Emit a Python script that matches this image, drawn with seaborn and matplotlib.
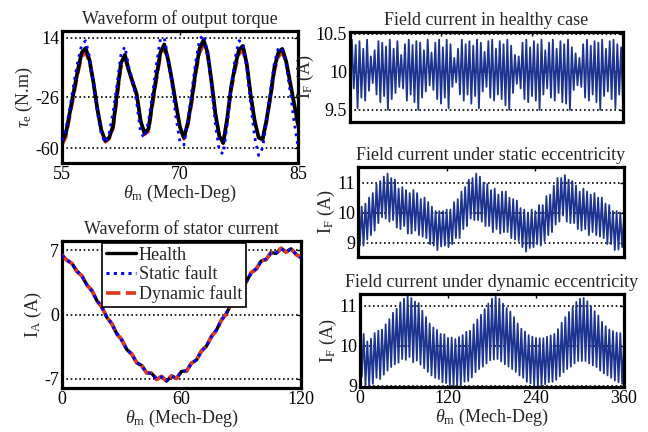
import matplotlib
matplotlib.use("Agg")
import matplotlib.pyplot as plt
import seaborn as sns

# ---------------- torque waveform (55..85 deg, step 0.5) ----------------
torque_theta = [55.0 + 0.5 * k for k in range(61)]
torque_health = [-56, -50, -36, -22, -8, 4, 7, -1, -16, -34, -48, -55, -53, -45, -23, -3,
                 2.5, -8, -16, -24, -42, -50, -47, -29, -12, 4, 9.5, -1, -15, -31, -46, -53,
                 -43, -27, -8, 7, 12.5, 4, -15, -37, -52, -56.5, -40, -19, -5, 6, 8.5, -4,
                 -25, -42, -53, -54, -41, -25, -6, 4, 6.5, -2, -16, -30, -44]
torque_static = [-55, -47, -33, -17, -2, 9, 12, 1, -16, -36, -51, -56.5, -50, -36, -17, 3,
                 8, -6, -15, -30, -50, -53, -42, -24, -4, 13, 14, 0, -18, -40, -56, -58,
                 -42, -22, -2, 13, 16, 4, -18, -44, -62, -64, -44, -20, 0, 12, 10, -6,
                 -31, -53, -65, -60, -42, -22, -3, 7, 7, -4, -22, -42, -59]
torque_dynamic = [-58, -53, -39, -25, -11, 1, 4, -3, -17, -34, -48, -56, -54, -47, -27, -6,
                  0, -9, -17, -25, -42, -51, -49, -32, -15, 1, 7, -2, -16, -32, -47, -54,
                  -45, -30, -11, 4, 9, 2, -16, -37, -52, -57, -42, -22, -8, 3, 5, -5,
                  -25, -42, -53, -55, -43, -27, -9, 1, 4, -3, -17, -31, -46]

# ---------------- stator current (0..120 deg, step 2.5) ----------------
stator_theta = [2.5 * k for k in range(49)]
ia_health = [6.45, 5.90, 5.55, 4.70, 4.20, 3.22, 2.60, 1.52, 0.82, -0.30, -1.00, -2.10,
             -2.75, -3.80, -4.30, -5.25, -5.55, -6.35, -6.40, -7.05, -6.75, -7.25, -6.70,
             -6.95, -6.20, -6.15, -5.30, -4.95, -3.98, -3.45, -2.40, -1.72, -0.62, 0.08,
             1.20, 1.88, 2.97, 3.55, 4.55, 4.95, 5.82, 6.00, 6.75, 6.65, 7.20, 6.80, 7.15,
             6.55, 6.20]
ia_static = [6.40, 5.95, 5.50, 4.75, 4.15, 3.25, 2.55, 1.55, 0.78, -0.26, -1.04, -2.06,
             -2.80, -3.76, -4.34, -5.20, -5.60, -6.30, -6.45, -7.00, -6.80, -7.20, -6.74,
             -6.90, -6.24, -6.10, -5.34, -4.90, -4.02, -3.40, -2.44, -1.68, -0.66, 0.12,
             1.16, 1.92, 2.93, 3.60, 4.50, 5.00, 5.78, 6.05, 6.70, 6.70, 7.15, 6.85, 7.10,
             6.60, 6.15]
ia_dynamic = [6.50, 5.88, 5.58, 4.68, 4.22, 3.20, 2.62, 1.50, 0.84, -0.32, -0.98, -2.12,
              -2.73, -3.82, -4.28, -5.27, -5.53, -6.37, -6.38, -7.08, -6.73, -7.28, -6.68,
              -6.98, -6.18, -6.18, -5.28, -4.98, -3.96, -3.48, -2.38, -1.75, -0.60, 0.05,
              1.22, 1.85, 2.99, 3.52, 4.57, 4.92, 5.84, 5.97, 6.77, 6.62, 7.22, 6.77, 7.18,
              6.52, 6.22]

# ---------------- field current (0..360 deg, step 2.5) ----------------
field_theta = [2.5 * k for k in range(145)]
if_healthy = [10.00, 10.42, 9.78, 10.35, 9.52, 10.40, 9.66, 10.30, 9.62, 10.42, 9.75, 10.20,
              9.85, 10.28, 9.70, 10.40, 9.60, 10.38, 9.68, 10.33, 9.50, 10.42, 9.64, 10.30,
              9.72, 10.40, 9.80, 10.22, 9.78, 10.36, 9.62, 10.42, 9.70, 10.35, 9.60, 10.40,
              9.50, 10.38, 9.66, 10.28, 9.74, 10.42, 9.82, 10.25, 9.76, 10.38, 9.64, 10.42,
              9.58, 10.32, 9.66, 10.42, 9.52, 10.36, 9.80, 10.18, 9.86, 10.30, 9.70, 10.42,
              9.62, 10.36, 9.70, 10.40, 9.58, 10.34, 9.68, 10.42, 9.52, 10.38, 9.74, 10.26,
              9.80, 10.40, 9.66, 10.42, 9.62, 10.30, 9.70, 10.40, 9.64, 10.36, 9.56, 10.42,
              9.50, 10.34, 9.72, 10.22, 9.84, 10.20, 9.78, 10.38, 9.64, 10.42, 9.60, 10.32,
              9.68, 10.40, 9.62, 10.36, 9.50, 10.42, 9.70, 10.28, 9.78, 10.38, 9.66, 10.42,
              9.62, 10.30, 9.72, 10.40, 9.60, 10.36, 9.58, 10.42, 9.50, 10.32, 9.76, 10.24,
              9.82, 10.18, 9.80, 10.36, 9.66, 10.42, 9.62, 10.34, 9.70, 10.40, 9.60, 10.38,
              9.50, 10.42, 9.68, 10.30, 9.74, 10.40, 9.64, 10.42, 9.52, 10.36, 9.70, 10.32,
              9.55]
if_static = [10.00, 8.90, 10.20, 8.90, 10.30, 9.10, 10.50, 9.25, 10.65, 9.40, 10.95, 9.65,
             11.05, 9.85, 11.20, 9.80, 11.30, 9.70, 11.15, 9.75, 11.10, 9.50, 10.80, 9.45,
             10.85, 9.55, 10.75, 9.30, 10.65, 9.30, 10.75, 9.40, 10.65, 9.25, 10.45, 9.20,
             10.50, 9.15, 10.35, 8.95, 10.20, 8.90, 10.05, 8.75, 10.05, 8.87, 10.05, 8.90,
             10.10, 8.85, 10.10, 8.95, 10.35, 9.15, 10.45, 9.15, 10.70, 9.45, 10.85, 9.55,
             11.10, 9.80, 11.15, 9.75, 11.30, 9.75, 11.20, 9.70, 11.00, 9.55, 10.95, 9.55,
             10.75, 9.35, 10.80, 9.45, 10.60, 9.30, 10.70, 9.35, 10.70, 9.35, 10.50, 9.15,
             10.45, 9.10, 10.40, 9.05, 10.15, 8.85, 10.10, 8.70, 10.00, 8.82, 10.10, 8.85,
             10.05, 8.95, 10.25, 8.90, 10.25, 9.05, 10.55, 9.25, 10.60, 9.35, 10.90, 9.60,
             11.15, 9.70, 11.15, 9.90, 11.25, 9.70, 11.10, 9.65, 11.05, 9.65, 10.90, 9.45,
             10.70, 9.40, 10.80, 9.45, 10.70, 9.25, 10.60, 9.35, 10.65, 9.25, 10.50, 9.20,
             10.50, 9.15, 10.30, 8.95, 10.25, 8.95, 10.05, 8.75, 10.05, 8.77, 10.00, 8.85,
             9.85]
if_dynamic = [10.30, 9.23, 10.30, 9.02, 10.11, 9.00, 10.18, 9.05, 10.32, 9.20, 10.38, 9.17,
              10.41, 9.28, 10.54, 9.38, 10.67, 9.47, 10.83, 9.54, 10.93, 9.58, 11.09, 9.67,
              11.18, 9.65, 11.24, 9.72, 11.20, 9.59, 11.11, 9.63, 11.07, 9.53, 10.88, 9.44,
              10.72, 9.35, 10.56, 9.26, 10.46, 9.20, 10.40, 9.17, 10.30, 9.09, 10.29, 9.07,
              10.20, 9.01, 10.21, 9.00, 10.17, 9.00, 10.22, 9.02, 10.27, 9.10, 10.35, 9.12,
              10.38, 9.21, 10.54, 9.34, 10.66, 9.42, 10.78, 9.48, 10.92, 9.56, 11.06, 9.64,
              11.18, 9.66, 11.23, 9.67, 11.18, 9.61, 11.06, 9.54, 10.95, 9.48, 10.86, 9.42,
              10.72, 9.35, 10.56, 9.26, 10.43, 9.20, 10.36, 9.10, 10.27, 9.06, 10.23, 9.01,
              10.20, 8.99, 10.19, 8.99, 10.19, 9.04, 10.23, 9.09, 10.26, 9.10, 10.30, 9.15,
              10.42, 9.24, 10.58, 9.34, 10.72, 9.42, 10.85, 9.48, 10.97, 9.56, 11.10, 9.62,
              11.18, 9.62, 11.20, 9.62, 11.12, 9.56, 10.99, 9.51, 10.87, 9.47, 10.76, 9.38,
              10.60, 9.31, 10.49, 9.26, 10.41, 9.20, 10.37, 9.13, 10.33, 9.09, 10.32, 9.05,
              10.10]

# ---------------- styling ----------------
sns.set_theme(style="white")
plt.rcParams["font.family"] = ["Liberation Serif", "DejaVu Serif"]
plt.rcParams["mathtext.fontset"] = "custom"
plt.rcParams["mathtext.rm"] = "Liberation Serif"
plt.rcParams["mathtext.it"] = "Liberation Serif:italic"
FS = 13

BLACK = "#000000"
BLUE = "#0000ff"
RED = "#e2381c"
NAVY = "#1c3390"

fig = plt.figure(figsize=(6.48, 4.32), dpi=100)
fig.patch.set_facecolor("white")


def add_axes(px_left, px_top, px_right, px_bottom):
    W, H = 648.0, 432.0
    return fig.add_axes([px_left / W, 1 - px_bottom / H,
                         (px_right - px_left) / W, (px_bottom - px_top) / H])


def style(ax, xticks, yticks, xlim, ylim, xlabels=True):
    ax.set_xlim(*xlim)
    ax.set_ylim(*ylim)
    ax.set_xticks(xticks)
    ax.set_yticks(yticks)
    ax.set_yticklabels([f"{t:g}" for t in yticks])
    if xlabels:
        ax.set_xticklabels([f"{t:g}" for t in xticks])
    else:
        ax.set_xticklabels([])
    for s in ax.spines.values():
        s.set_visible(True)
        s.set_color("black")
        s.set_linewidth(2.3)
    ax.tick_params(direction="in", length=3, width=1, top=True, right=True,
                   labelsize=FS, colors="black", pad=2)
    ax.grid(False)
    for t in yticks:
        ax.axhline(t, color="black", linestyle=(0, (1, 1.6)), linewidth=1.2, zorder=0.5)
    ax.set_facecolor("white")


# --- torque ---
ax1 = add_axes(62, 31, 298, 163)
sns.lineplot(x=torque_theta, y=torque_dynamic, ax=ax1, color=RED, linewidth=2.2,
             linestyle=(0, (4, 2)), estimator=None, zorder=2)
sns.lineplot(x=torque_theta, y=torque_health, ax=ax1, color=BLACK, linewidth=2.7,
             estimator=None, zorder=3)
sns.lineplot(x=torque_theta, y=torque_static, ax=ax1, color=BLUE, linewidth=2.0,
             linestyle=(0, (1, 1.8)), estimator=None, zorder=4)
style(ax1, [55, 70, 85], [-60, -26, 14], (55, 85), (-70, 18.5))
ax1.set_title("Waveform of output torque", fontsize=FS, pad=5)
ax1.set_xlabel(r"$\theta_\mathrm{m}$ (Mech-Deg)", fontsize=FS, labelpad=0)
ax1.set_ylabel(r"$\tau_\mathrm{e}$ (N.m)", fontsize=FS, labelpad=0)

# --- stator current ---
ax2 = add_axes(62, 241, 301, 388)
sns.lineplot(x=stator_theta, y=ia_health, ax=ax2, color=BLACK, linewidth=2.4,
             estimator=None, label="Health", zorder=2)
sns.lineplot(x=stator_theta, y=ia_static, ax=ax2, color=BLUE, linewidth=2.2,
             linestyle=(0, (1, 1.4)), estimator=None, label="Static fault", zorder=4)
sns.lineplot(x=stator_theta, y=ia_dynamic, ax=ax2, color=RED, linewidth=2.6,
             linestyle=(0, (4, 1.5)), estimator=None, label="Dynamic fault", zorder=3)
style(ax2, [0, 60, 120], [-7, 0, 7], (0, 120), (-8, 8))
ax2.set_title("Waveform of stator current", fontsize=FS, pad=5)
ax2.set_xlabel(r"$\theta_\mathrm{m}$ (Mech-Deg)", fontsize=FS, labelpad=0)
ax2.set_ylabel(r"$\mathrm{I_A}$ (A)", fontsize=FS, labelpad=0)
leg = ax2.legend(loc="upper left", bbox_to_anchor=(0.167, 0.985), fontsize=FS,
                 frameon=True, fancybox=False, framealpha=1, edgecolor="black",
                 borderaxespad=0, handlelength=1.7, handletextpad=0.15,
                 labelspacing=0.12, borderpad=0.2)
leg.get_frame().set_linewidth(1.2)
leg.set_zorder(10)

# --- field currents ---
ax3 = add_axes(350, 32, 623, 122)
sns.lineplot(x=field_theta, y=if_healthy, ax=ax3, color=NAVY, linewidth=1.3, estimator=None)
style(ax3, [0, 120, 240, 360], [9.5, 10, 10.5], (0, 360), (9.34, 10.52), xlabels=False)
ax3.set_title("Field current in healthy case", fontsize=FS, pad=5)
ax3.set_ylabel(r"$\mathrm{I_F}$ (A)", fontsize=FS, labelpad=0)

ax4 = add_axes(358, 167, 624, 257)
sns.lineplot(x=field_theta, y=if_static, ax=ax4, color=NAVY, linewidth=1.3, estimator=None)
style(ax4, [0, 120, 240, 360], [9, 10, 11], (0, 360), (8.52, 11.52), xlabels=False)
ax4.set_title("Field current under static eccentricity", fontsize=FS, pad=5)
ax4.set_ylabel(r"$\mathrm{I_F}$ (A)", fontsize=FS, labelpad=0)

ax5 = add_axes(360, 294, 624, 387)
sns.lineplot(x=field_theta, y=if_dynamic, ax=ax5, color=NAVY, linewidth=1.3, estimator=None)
style(ax5, [0, 120, 240, 360], [9, 10, 11], (0, 360), (8.97, 11.3))
ax5.set_title("Field current under dynamic eccentricity", fontsize=FS, pad=5)
ax5.set_xlabel(r"$\theta_\mathrm{m}$ (Mech-Deg)", fontsize=FS, labelpad=0)
ax5.set_ylabel(r"$\mathrm{I_F}$ (A)", fontsize=FS, labelpad=0)

fig.savefig("out.png", dpi=100, facecolor="white")
